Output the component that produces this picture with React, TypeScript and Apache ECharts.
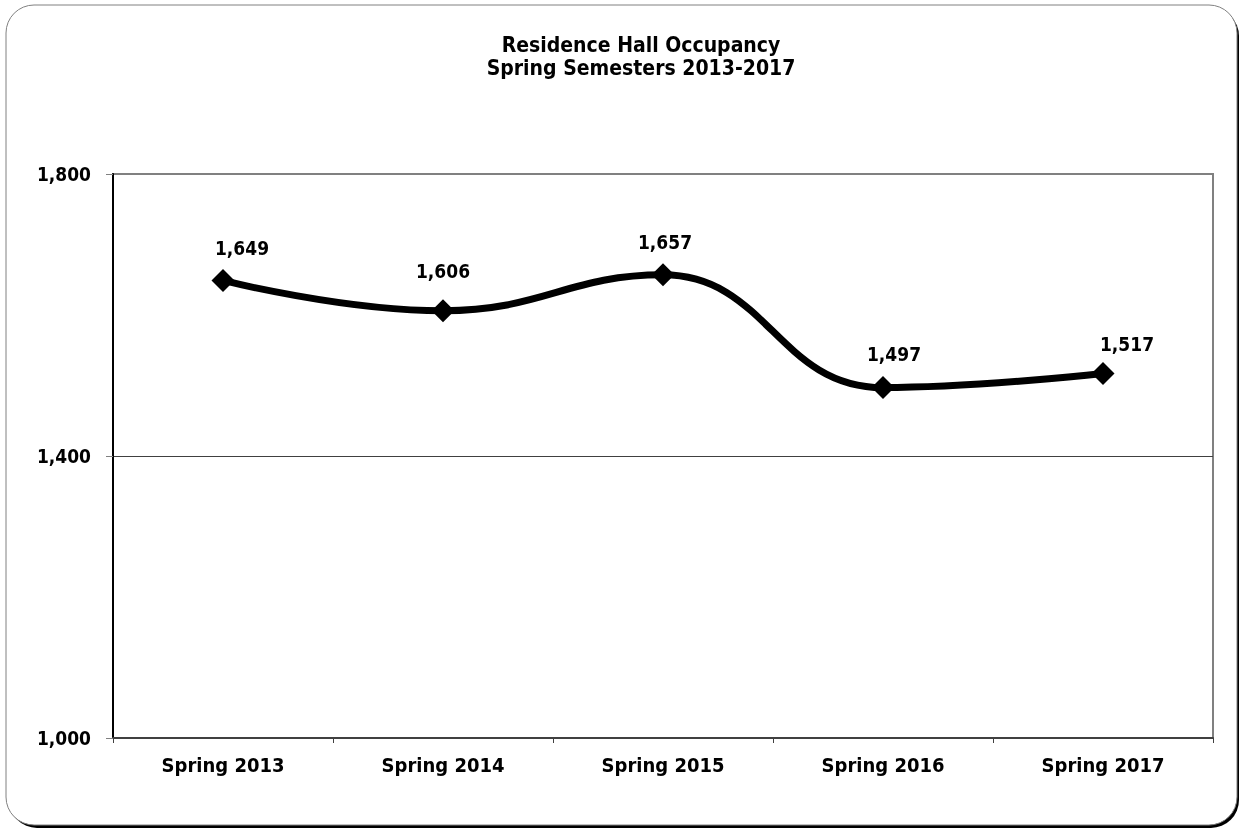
import React, { useEffect, useRef } from "react";
import * as echarts from "echarts";

const titleLines = ["Residence Hall Occupancy", "Spring Semesters 2013-2017"];
const categories = ["Spring 2013", "Spring 2014", "Spring 2015", "Spring 2016", "Spring 2017"];
const occupancy = [1649, 1606, 1657, 1497, 1517];
const yMin = 1000;
const yMax = 1800;
const yStep = 400;

const labelOffsets = [[19, -32], [0, -40], [2, -33], [11, -34], [24, -30]];

const FONT = "'Liberation Sans Narrow', 'Arial Narrow', 'DejaVu Sans Condensed', sans-serif";

export default function App() {
  const ref = useRef<HTMLDivElement>(null);
  useEffect(() => {
    if (!ref.current) return;
    const chart = echarts.init(ref.current, null, { renderer: "svg" });
    const fmt = (v: number) => v.toLocaleString("en-US");
    chart.setOption({
      animation: false,
      backgroundColor: "transparent",
      graphic: [
        {
          type: "rect",
          z: -10,
          silent: true,
          shape: { x: 9, y: 8, width: 1230, height: 820, r: 28 },
          style: { fill: "#000" },
        },
        {
          type: "rect",
          z: -9,
          silent: true,
          shape: { x: 6, y: 5, width: 1231, height: 820, r: 28 },
          style: { fill: "#fff", stroke: "#808080", lineWidth: 1 },
        },
        {
          type: "text",
          x: 641,
          y: 33,
          style: {
            text: titleLines.join("\n"),
            align: "center",
            verticalAlign: "top",
            font: `bold 21px ${FONT}`,
            fill: "#000",
            lineHeight: 23,
          },
        },
      ],
      grid: {
        left: 113,
        right: 28,
        top: 174,
        bottom: 91,
        show: true,
        borderColor: "#808080",
        borderWidth: 2,
        backgroundColor: "transparent",
      },
      xAxis: {
        type: "category",
        data: categories,
        boundaryGap: true,
        axisLine: { lineStyle: { color: "#404040", width: 2 } },
        axisTick: { show: true, length: 5, lineStyle: { color: "#404040" } },
        axisLabel: {
          margin: 17,
          color: "#000",
          fontFamily: FONT,
          fontWeight: "bold",
          fontSize: 20,
        },
        splitLine: { show: false },
      },
      yAxis: {
        type: "value",
        min: yMin,
        max: yMax,
        interval: yStep,
        axisLine: { show: true, lineStyle: { color: "#000", width: 2 } },
        axisTick: { show: true, length: 7, lineStyle: { color: "#808080" } },
        axisLabel: {
          margin: 22,
          color: "#000",
          fontFamily: FONT,
          fontWeight: "bold",
          fontSize: 19,
          formatter: fmt,
        },
        splitLine: {
          show: true,
          lineStyle: { color: ["transparent", "#404040", "transparent"], width: 1 },
        },
      },
      series: [
        {
          type: "line",
          data: occupancy.map((v, i) => ({
            value: v,
            label: { offset: labelOffsets[i] },
          })),
          smooth: 0.45,
          symbol: "diamond",
          symbolSize: 23,
          lineStyle: { color: "#000", width: 7 },
          itemStyle: { color: "#000" },
          label: {
            show: true,
            position: "inside",
            color: "#000",
            fontFamily: FONT,
            fontWeight: "bold",
            fontSize: 19,
            formatter: (p: any) => fmt(p.value),
          },
        },
      ],
    });
    return () => chart.dispose();
  }, []);
  return (
    <div
      ref={ref}
      style={{ position: "fixed", left: 0, top: 0, width: 1241, height: 829 }}
    />
  );
}
